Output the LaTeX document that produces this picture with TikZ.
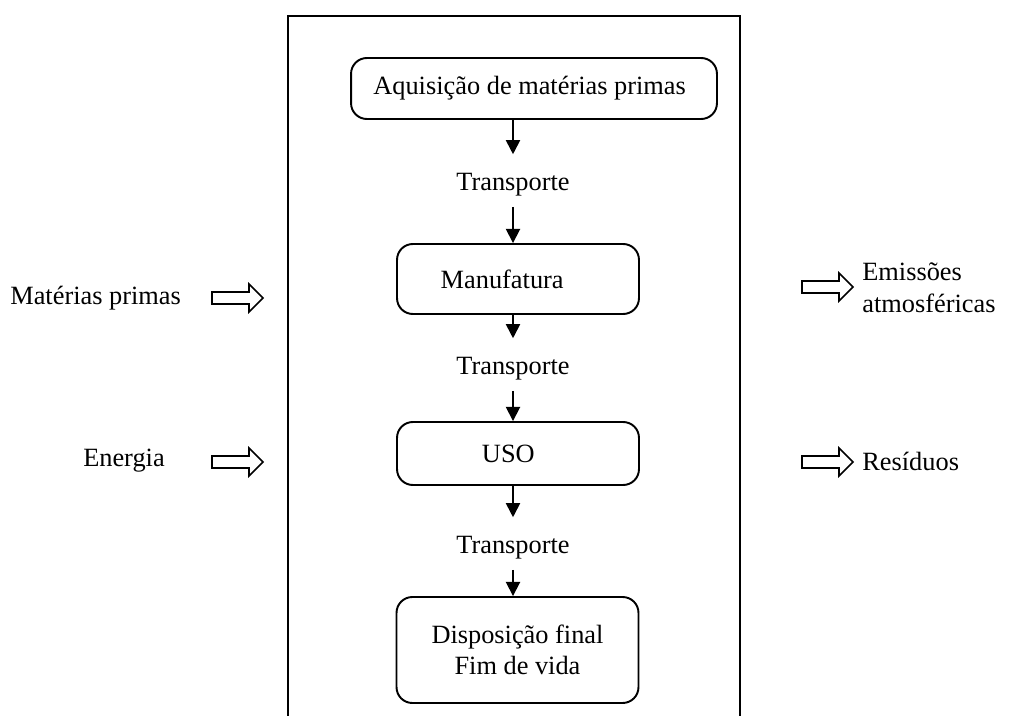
\documentclass[tikz,border=0pt]{standalone}
\usepackage{fontspec}
\setmainfont{Liberation Serif}
\usetikzlibrary{arrows.meta}
\tikzset{
  etapa/.style={draw, line width=1.1pt, rounded corners=9pt, inner sep=0pt, align=center},
  rotulo/.style={inner sep=0pt, align=left},
  fluxo/.style={-{Triangle[width=8pt,length=8pt]}, line width=1pt},
  saida/.style={fluxo, shorten >=0.38cm},
  entrada/.style={fluxo, shorten <=0.2cm},
  setavazada/.pic={\draw[line width=0.9pt] (0,-6) -- (37,-6) -- (37,-14) -- (51,0) -- (37,14) -- (37,6) -- (0,6) -- cycle;}
}

\begin{document}
\begin{tikzpicture}[x=0.02cm, y=-0.02cm, font=\fontsize{15}{18}\selectfont]
		\useasboundingbox (0,0) rectangle (1010,716);
		%%%%% moldura %%%%%
		\draw[line width=1.1pt] (288,716) -- (288,16) -- (740,16) -- (740,716);
		
		%%%%% etapas %%%%%
		\node[etapa, minimum width=7.32cm, minimum height=1.22cm] (aquis) at (534,88.5) {Aquisição de matérias primas\hspace{5pt}};
		\node[rotulo] (transp1) at (513,185) {Transporte};
		\node[etapa, minimum width=4.84cm, minimum height=1.4cm] (manuf) at (518,279) {Manufatura\hspace{18pt}};
		\node[rotulo] (transp2) at (513,369) {Transporte};
		\node[etapa, minimum width=4.84cm, minimum height=1.26cm] (uso) at (518,453.5) {USO\hspace{11pt}};
		\node[rotulo] (transp3) at (513,548) {Transporte};
		\node[etapa, minimum width=4.84cm, minimum height=2.12cm] (dispo) at (517.5,650) {Disposição final\\Fim de vida};
		
		\draw[saida] (transp1 |- aquis.south) -- (transp1.north);
		\draw[entrada] (transp1.south) -- (transp1 |- manuf.north);
		\draw[saida] (transp2 |- manuf.south) -- (transp2.north);
		\draw[entrada] (transp2.south) -- (transp2 |- uso.north);
		\draw[saida] (transp3 |- uso.south) -- (transp3.north);
		\draw[entrada] (transp3.south) -- (transp3 |- dispo.north);
		
		%%%%% entradas e saidas %%%%%
		\node[rotulo, anchor=west] (materias) at (10,298) {Matérias primas};
		\node[rotulo] (energia) at (124,461) {Energia};
		\node[rotulo, anchor=west] (emissoes) at (862,288) {Emissões\\atmosféricas};
		\node[rotulo, anchor=west] (residuos) at (862,461) {Resíduos};
		
		\pic at (212,298) {setavazada};
		\pic at (212,462) {setavazada};
		\pic at (802,287) {setavazada};
		\pic at (802,462) {setavazada};
	\end{tikzpicture}
\end{document}
